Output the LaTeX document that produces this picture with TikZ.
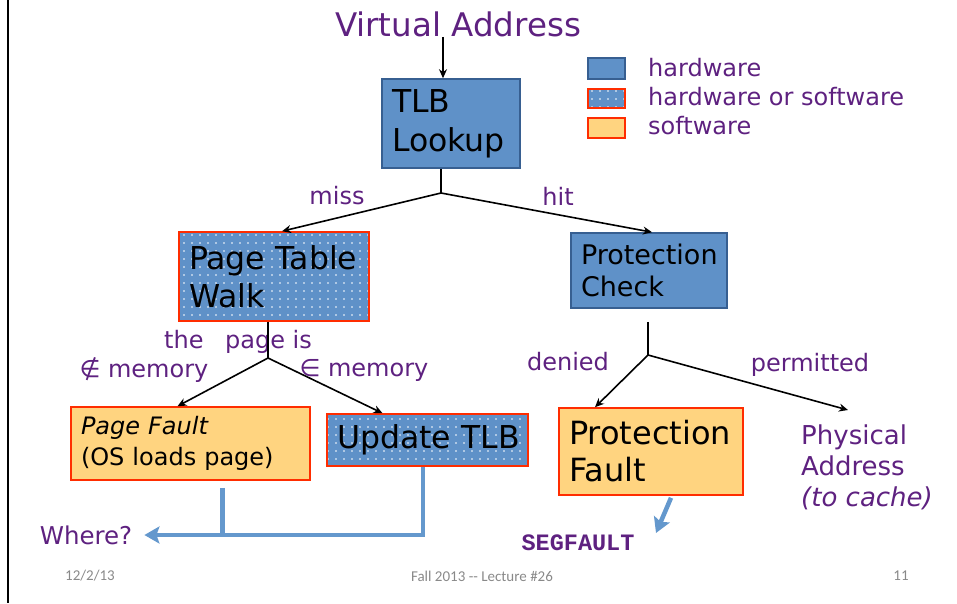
\documentclass[tikz,border=0pt]{standalone}
\usepackage{fontspec}
\setmainfont{DejaVu Sans}
\newfontfamily\footfont{Carlito}
\newfontfamily\codefont{Liberation Mono}
\usetikzlibrary{arrows.meta,patterns.meta}

\definecolor{hwblue}{RGB}{95,145,200}
\definecolor{hwedge}{RGB}{55,95,145}
\definecolor{swred}{RGB}{255,45,0}
\definecolor{swyellow}{RGB}{255,212,128}
\definecolor{txtpurple}{RGB}{94,33,128}
\definecolor{flowblue}{RGB}{100,152,205}
\definecolor{footgray}{RGB}{137,137,137}

\tikzdeclarepattern{
  name=sparsedots, type=uncolored,
  bottom left={(-1pt,-1pt)}, top right={(1pt,1pt)},
  tile size={(8pt,8pt)},
  code={\pgfpathcircle{\pgfpointorigin}{0.85pt}\pgfusepath{fill}}
}

\tikzset{
  box/.style={rectangle, inner xsep=10pt, inner ysep=0pt, align=left,
    text=black, line width=1.6pt},
  hw/.style={box, draw=hwedge, fill=hwblue},
  sw/.style={box, draw=swred, fill=swyellow},
  hwsw/.style={box, draw=swred, preaction={fill=hwblue},
    pattern=sparsedots, pattern color=white},
  lbl/.style={text=txtpurple, inner sep=0pt, align=left,
    font=\fontsize{24}{30}\selectfont},
  conn/.style={line width=1.6pt, black},
  arr/.style={conn, -{Stealth[length=9pt,width=8pt]}},
  blueline/.style={line width=4.5pt, flowblue},
  bluearr/.style={blueline, -{Stealth[length=15pt,width=17pt,inset=3pt]}},
  foot/.style={text=footgray, inner sep=0pt, font=\footfont\fontsize{15}{17}\selectfont},
}

\begin{document}
\begin{tikzpicture}[x=1pt,y=-1pt]
\useasboundingbox (0,0) rectangle (957,603);
\draw[line width=2pt] (8,0) -- (8,603);

% title
\node[lbl, font=\fontsize{32.5}{38}\selectfont] (va) at (458,24) {Virtual Address};

% legend
\node[hw, minimum width=37pt, minimum height=21pt, inner xsep=0pt] (lg1) at (606.5,68.5) {};
\node[hwsw, minimum width=37pt, minimum height=19pt, inner xsep=0pt] (lg2) at (606.5,98.5) {};
\node[sw, minimum width=37pt, minimum height=20pt, inner xsep=0pt] (lg3) at (606.5,128) {};
\node[lbl, anchor=west] (lt1) at (648,68) {hardware};
\node[lbl, anchor=west] (lt2) at (648,97) {hardware or software};
\node[lbl, anchor=west] (lt3) at (648,126) {software};

% boxes
\node[hw, text width=118pt, minimum height=89pt,
  font=\fontsize{31.5}{39}\selectfont] (tlb) at (451,123.5) {TLB\\Lookup};
\node[hwsw, text width=170pt, minimum height=89pt,
  font=\fontsize{31.5}{38}\selectfont] (ptw) at (274,276.5) {Page Table\\Walk};
\node[hw, text width=136pt, minimum height=75pt,
  font=\fontsize{27}{32}\selectfont] (pc) at (649,270.5) {Protection\\Check};
\node[sw, text width=219pt, minimum height=73pt,
  font=\fontsize{24}{31}\selectfont] (pf) at (190.5,443.5) {\textit{Page Fault}\\(OS loads page)};
\node[hwsw, text width=189pt, inner xsep=6pt, minimum height=52pt,
  font=\fontsize{31.5}{37}\selectfont] (utlb) at (427.5,440) {\hspace{4pt}Update TLB};
\node[sw, text width=164pt, minimum height=87pt,
  font=\fontsize{32}{37}\selectfont] (pfault) at (651,451.5) {Protection\\Fault};

% labels
\node[lbl] (miss) at (337,196) {miss};
\node[lbl] (hit) at (558,196) {hit};
\node[lbl] (pageis) at (238,342) {the\hspace{0.9em}page is};
\node[lbl] (notin) at (144,370) {∉ memory};
\node[lbl] (isin) at (364,370) {∈ memory};
\node[lbl] (denied) at (568,362) {denied};
\node[lbl] (permit) at (810,365) {permitted};
\node[lbl, anchor=north west, font=\fontsize{26}{31}\selectfont] (phys) at (801,425)
  {Physical\\Address\\\textit{(to cache)}};
\node[lbl, font=\fontsize{24.5}{28}\selectfont] (where) at (86,535) {Where?};
\node[lbl, font=\codefont\bfseries\fontsize{23.5}{26}\selectfont] (seg) at (578,543) {SEGFAULT};

% footer
\node[foot] (date) at (90,576) {12/2/13};
\node[foot] (course) at (482,576) {Fall 2013 -- Lecture \#26};
\node[foot] (page) at (901,576) {11};

% black flow connectors
\coordinate (b1) at (441,193);
\coordinate (b2) at (268,358);
\coordinate (b3) at (648,355);
\coordinate (pa) at (848,410);
\draw[arr] ([xshift=-8pt]tlb.north |- va.south) -- ([xshift=-8pt]tlb.north);
\draw[conn] (b1 |- tlb.south) -- (b1);
\draw[arr] (b1) -- ([xshift=8pt]ptw.north);
\draw[arr] (b1) -- ([xshift=3pt]pc.north);
\draw[conn] (b2 |- ptw.south) -- (b2);
\draw[arr] (b2) -- ([xshift=-13pt]pf.north);
\draw[arr] (b2) -- ([xshift=-45pt]utlb.north);
\draw[conn] ([yshift=-13pt]b3 |- pc.south) -- (b3);
\draw[arr] (b3) -- ([xshift=-56pt]pfault.north);
\draw[arr] (b3) -- (pa);

% blue result connectors
\coordinate (pfdrop) at ([xshift=32pt,yshift=-7pt]pf.south);
\coordinate (segtip) at (656,533);
\draw[blueline] (pfdrop) -- (pfdrop |- where.east);
\draw[bluearr] ([xshift=-4.5pt]utlb.south) |- ([xshift=12pt]where.east);
\draw[bluearr] ([xshift=20pt,yshift=-2pt]pfault.south) -- (segtip);
\end{tikzpicture}
\end{document}
